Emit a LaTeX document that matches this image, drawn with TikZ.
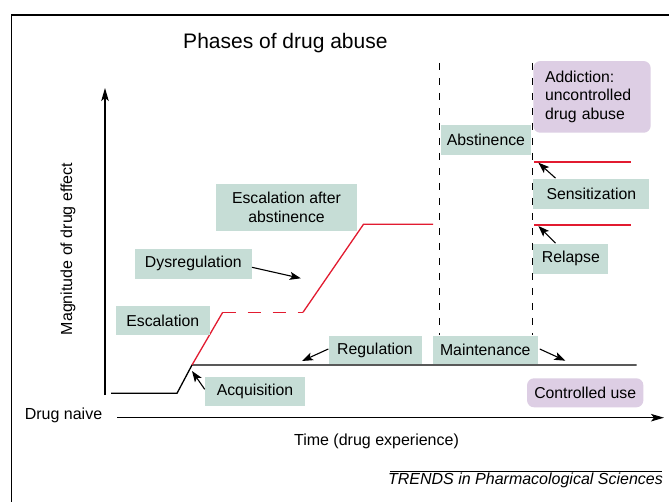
\documentclass[tikz,border=0pt]{standalone}
\usepackage{fontspec}
\setmainfont{Liberation Sans}
\usetikzlibrary{arrows.meta}
\definecolor{boxteal}{RGB}{198,221,214}
\definecolor{boxlilac}{RGB}{221,206,228}
\definecolor{curvered}{RGB}{226,27,48}
\begin{document}
\begin{tikzpicture}[x=1pt,y=-1pt,
  lbl/.style={font=\fontsize{15.8}{19}\selectfont, inner sep=0pt},
  phase/.style={lbl, fill=boxteal, align=center},
  state/.style={lbl, fill=boxlilac, rounded corners=7pt},
  axisarrow/.style={line width=1.2pt, -{Stealth[length=13pt,width=7.5pt,inset=3pt]}},
  pointer/.style={line width=1.1pt, -{Stealth[length=11pt,width=8pt,inset=2.5pt]}},
  curve/.style={line width=1.3pt},
  redcurve/.style={line width=1.3pt, draw=curvered},
  divider/.style={line width=1.1pt, dash pattern=on 7pt off 8pt}]

\useasboundingbox (0,0) rectangle (669,502);
\fill[white] (0,0) rectangle (669,502);

% outer frame
\draw[line width=1.3pt] (11.5,502) -- (11.5,15) -- (669,15);

% title
\node[font=\fontsize{21}{24}\selectfont] (title) at (285.4,43.3) {Phases of drug abuse};

% axes
\coordinate (yfoot) at (105,395);
\coordinate (ytop) at (105,88);
\coordinate (xfoot) at (117,417.7);
\coordinate (xend) at (664,417.7);
\draw[axisarrow] (yfoot) -- (ytop);
\draw[axisarrow] (xfoot) -- (xend);
\node[lbl, font=\fontsize{16}{19}\selectfont, rotate=90] (ylab) at (68,249) {Magnitude of drug effect};
\node[lbl, font=\fontsize{16}{19}\selectfont] (naive) at (63.5,415) {Drug naive};
\node[lbl, font=\fontsize{16}{19}\selectfont] (time) at (376.5,441.7) {Time (drug experience)};

% phase dividers
\coordinate (divAtop) at (439.4,63);
\coordinate (divAbot) at (439.4,335);
\coordinate (divBtop) at (532.4,63);
\coordinate (divBbot) at (532.4,335);
\draw[divider] (divAtop) -- (divAbot);
\draw[divider] (divBtop) -- (divBbot);

% response curves
\coordinate (naiveA) at (111,393.3);
\coordinate (naiveB) at (177,393.3);
\coordinate (onset) at (192,365);
\coordinate (useEnd) at (636.5,365);
\coordinate (escTop) at (222.7,312.3);
\coordinate (dysEnd) at (303,312.3);
\coordinate (peak) at (363.5,224.3);
\coordinate (peakEnd) at (433,224.3);
\coordinate (sensA) at (534,162);
\coordinate (sensB) at (630.5,162);
\coordinate (relA) at (534,225);
\coordinate (relB) at (630.5,225);

\draw[curve] (naiveA) -- (naiveB) -- (onset) -- (useEnd);
\draw[redcurve] (onset) -- (escTop);
\draw[redcurve, dash pattern=on 13pt off 12pt] (escTop) -- (dysEnd);
\draw[redcurve] (dysEnd) -- (peak) -- (peakEnd);
\draw[redcurve] (sensA) -- (sensB);
\draw[redcurve] (relA) -- (relB);

% phase labels
\node[phase, minimum width=140.4pt, minimum height=46.7pt] (escab) at (286.5,207.4) {Escalation after\\abstinence};
\node[phase, minimum width=117pt, minimum height=29.7pt] (dysreg) at (193.3,263.9) {Dysregulation};
\node[phase, minimum width=93.5pt, minimum height=29.3pt] (escal) at (162.8,320.7) {Escalation};
\node[phase, minimum width=93pt, minimum height=28pt] (regul) at (375,350) {Regulation};
\node[phase, minimum width=104.5pt, minimum height=28pt] (maint) at (485.3,350) {Maintenance};
\node[phase, minimum width=100.2pt, minimum height=28.4pt] (acq) at (255,391.5) {Acquisition};
\node[phase, minimum width=90.3pt, minimum height=29.7pt] (abst) at (485.9,139.9) {Abstinence};
\node[phase, minimum width=116pt, minimum height=29.7pt] (sens) at (591.3,193.9) {Sensitization};
\node[phase, minimum width=75.1pt, minimum height=29.7pt] (relapse) at (570.9,258.9) {Relapse};

% behavioural states
\node[state, minimum width=116.3pt, minimum height=29pt] (ctrl) at (585.2,392.8) {Controlled use};
\node[state, minimum width=117.3pt, minimum height=71.7pt, align=left, text width=94pt, inner xsep=11.65pt, font=\fontsize{15.8}{18.2}\selectfont] (addict) at (592,96.9) {Addiction:\\uncontrolled\\drug abuse};

% pointers
\coordinate (dysTip) at (300.8,278.3);
\coordinate (regTip) at (302,361);
\coordinate (maintTip) at (565.3,360.7);
\coordinate (sensTip) at (538.4,162.7);
\coordinate (relTip) at (538.4,226);
\draw[pointer] ([yshift=-3.4pt]dysreg.east) -- (dysTip);
\draw[pointer] ([yshift=1pt]regul.west) -- (regTip);
\draw[pointer] ([xshift=2pt,yshift=1pt]maint.east) -- (maintTip);
\draw[pointer] ([yshift=2.2pt]acq.west) -- ([yshift=-6pt]onset);
\draw[pointer] ([xshift=-35.8pt,yshift=0.7pt]sens.north) -- (sensTip);
\draw[pointer] ([xshift=-15.4pt,yshift=0.7pt]relapse.north) -- (relTip);

% source line
\coordinate (srcA) at (390,471.2);
\coordinate (srcB) at (662,471.2);
\draw[line width=0.9pt] (srcA) -- (srcB);
\node[lbl, font=\fontsize{16}{19}\selectfont\itshape] (source) at (525.5,480.5) {TRENDS in Pharmacological Sciences};
\end{tikzpicture}
\end{document}
